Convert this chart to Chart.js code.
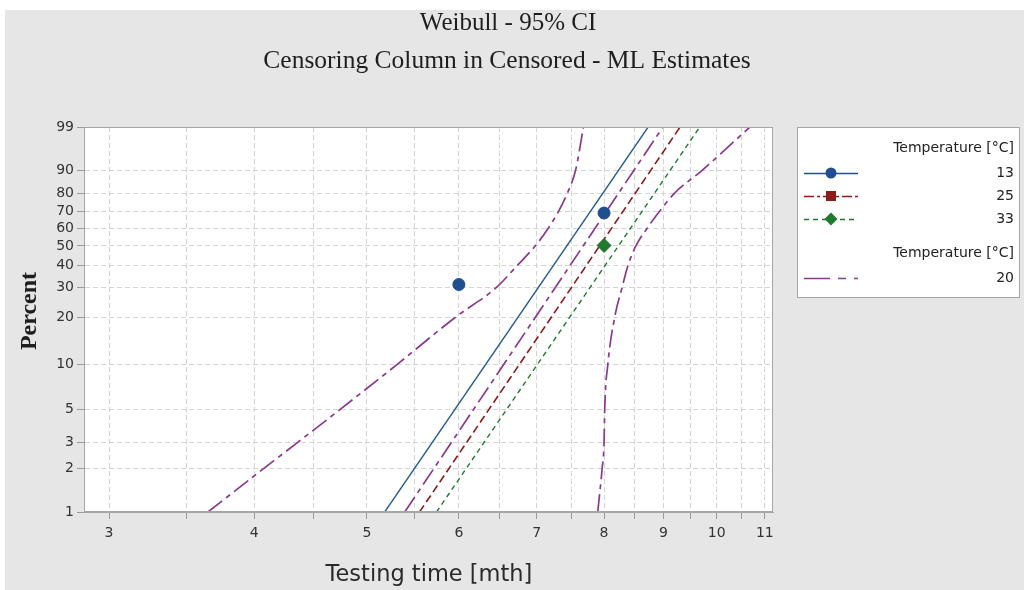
<!DOCTYPE html>
<html>
<head>
<meta charset="utf-8">
<script src="https://cdn.jsdelivr.net/npm/chart.js@4.4.1/dist/chart.umd.min.js"></script>
<style>
  html, body { margin: 0; padding: 0; background: #fff; }
  #wrap { position: relative; width: 1024px; height: 590px; }
</style>
</head>
<body>
<div id="wrap"><canvas id="chart" width="1024" height="590"></canvas></div>
<script>
// percent ticks on the Weibull probability axis
const pctTicks = [1, 2, 3, 5, 10, 20, 30, 40, 50, 60, 70, 80, 90, 99];
// x grid every half month, labels on whole months only
const timeGrid = [3, 3.5, 4, 4.5, 5, 5.5, 6, 6.5, 7, 7.5, 8, 8.5, 9, 9.5, 10, 10.5, 11];

// fitted lines: time at 1% and at 99%
const fitPct = [1, 99];
const fit13 = [5.18, 8.73];
const fit20 = [5.39, 8.99];
const fit25 = [5.55, 9.30];
const fit33 = [5.74, 9.67];

// 95% CI for 20 °C
const ciPct = [1, 2, 3, 5, 10, 20, 30, 40, 50, 60, 70, 80, 90, 99];
const ciLow20 = [3.65, 4.08, 4.36, 4.74, 5.31, 5.96, 6.46, 6.74, 6.98, 7.16, 7.31, 7.44, 7.56, 7.68];
const ciHigh20 = [7.90, 7.97, 8.00, 8.01, 8.06, 8.17, 8.29, 8.39, 8.52, 8.71, 8.93, 9.20, 9.71, 10.68];

// plotted failures
const obs13Time = [6, 8];
const obs13Pct = [31.3, 69.0];
const obs33Time = [8];
const obs33Pct = [50.3];

const legendTitle = 'Temperature [°C]';

const BLUE = '#1f4f8f';
const RED = '#8b1c1c';
const GREEN = '#1f7a30';
const PURPLE = '#8a3a8c';
const SANS = '"DejaVu Sans"';
const DASH20 = [18, 5, 5, 5];

// Weibull probability transform
function weib(p) {
  return Math.log(-Math.log(1 - p / 100));
}

function pts(times, pcts) {
  return times.map((t, i) => ({ x: t, y: weib(pcts[i]) }));
}

function lineSet(times, pcts, color, dash, width, smooth) {
  return {
    data: pts(times, pcts),
    showLine: true,
    borderColor: color,
    borderWidth: width,
    borderDash: dash,
    pointRadius: 0,
    cubicInterpolationMode: smooth ? 'monotone' : 'default',
    fill: false
  };
}

const decor = {
  id: 'decor',
  beforeDraw(chart) {
    const { ctx, chartArea: a } = chart;
    ctx.save();
    ctx.fillStyle = '#fff';
    ctx.fillRect(0, 0, chart.width, chart.height);
    ctx.fillStyle = '#e6e6e6';
    ctx.fillRect(5, 10, chart.width - 5, chart.height - 10);
    ctx.fillStyle = '#fff';
    ctx.fillRect(a.left, a.top, a.right - a.left, a.bottom - a.top);
    ctx.restore();
  },
  afterDraw(chart) {
    const { ctx, chartArea: a } = chart;
    ctx.save();
    // frame
    ctx.strokeStyle = '#a6a6a6';
    ctx.lineWidth = 1;
    ctx.strokeRect(a.left + 0.5, a.top + 0.5, a.right - a.left - 1, a.bottom - a.top - 1);

    // titles
    ctx.fillStyle = '#1e1e1e';
    ctx.textAlign = 'center';
    ctx.textBaseline = 'middle';
    ctx.font = '25px "Liberation Serif"';
    ctx.fillText('Weibull - 95% CI', 508, 23);
    ctx.font = '25.5px "Liberation Serif"';
    ctx.fillText('Censoring Column in Censored - ML Estimates', 507, 61);

    // axis titles
    ctx.font = '22.5px ' + SANS;
    ctx.fillStyle = '#2a2a2a';
    ctx.fillText('Testing time [mth]', 429, 575);
    ctx.save();
    ctx.translate(30, 311);
    ctx.rotate(-Math.PI / 2);
    ctx.font = 'bold 24px "Liberation Serif"';
    ctx.fillStyle = '#1e1e1e';
    ctx.fillText('Percent', 0, 0);
    ctx.restore();

    // legend box
    const lx = 797, ly = 127, lw = 223, lh = 171;
    ctx.fillStyle = '#fff';
    ctx.fillRect(lx, ly, lw, lh);
    ctx.strokeStyle = '#a6a6a6';
    ctx.strokeRect(lx + 0.5, ly + 0.5, lw - 1, lh - 1);

    ctx.font = '14px ' + SANS;
    ctx.fillStyle = '#222';
    ctx.textAlign = 'right';
    const tx = 1014;
    const rows = [
      { label: '13', y: 173, color: BLUE, dash: [], marker: 'circle' },
      { label: '25', y: 196, color: RED, dash: [10, 3, 3, 3], marker: 'square' },
      { label: '33', y: 219, color: GREEN, dash: [5, 4], marker: 'diamond' },
      { label: '20', y: 278, color: PURPLE, dash: [26, 8, 8, 8], marker: null }
    ];
    ctx.fillText(legendTitle, tx, 148);
    ctx.fillText(legendTitle, tx, 253);
    rows.forEach(r => {
      ctx.fillStyle = '#222';
      ctx.fillText(r.label, tx, r.y);
      ctx.strokeStyle = r.color;
      ctx.lineWidth = 1.5;
      ctx.setLineDash(r.dash);
      ctx.beginPath();
      ctx.moveTo(804, r.y + 0.5);
      ctx.lineTo(858, r.y + 0.5);
      ctx.stroke();
      ctx.setLineDash([]);
      ctx.fillStyle = r.color;
      const mx = 831, my = r.y;
      if (r.marker === 'circle') {
        ctx.beginPath(); ctx.arc(mx, my, 5.5, 0, Math.PI * 2); ctx.fill();
      } else if (r.marker === 'square') {
        ctx.fillRect(mx - 5, my - 5, 10, 10);
      } else if (r.marker === 'diamond') {
        ctx.beginPath();
        ctx.moveTo(mx, my - 6.5); ctx.lineTo(mx + 6.5, my);
        ctx.lineTo(mx, my + 6.5); ctx.lineTo(mx - 6.5, my);
        ctx.closePath(); ctx.fill();
      }
    });
    ctx.restore();
  }
};

const gridCommon = {
  color: '#d4d4d4',
  tickColor: '#9a9a9a',
  tickBorderDash: [],
  tickLength: 7,
  drawTicks: true
};
const borderCommon = { color: '#a6a6a6', dash: [5, 3] };

new Chart(document.getElementById('chart'), {
  type: 'scatter',
  data: {
    datasets: [
      {
        data: pts(obs13Time, obs13Pct),
        pointStyle: 'circle',
        pointRadius: 6,
        backgroundColor: BLUE,
        borderColor: BLUE,
        showLine: false
      },
      {
        data: pts(obs33Time, obs33Pct),
        pointStyle: 'rectRot',
        pointRadius: 7,
        backgroundColor: GREEN,
        borderColor: GREEN,
        showLine: false
      },
      lineSet(fit13, fitPct, '#2b5f8f', [], 1.4),
      lineSet(fit20, fitPct, PURPLE, DASH20, 1.7),
      lineSet(fit25, fitPct, RED, [8, 4], 1.6),
      lineSet(fit33, fitPct, GREEN, [5, 4], 1.4),
      lineSet(ciLow20, ciPct, PURPLE, DASH20, 1.7, true),
      lineSet(ciHigh20, ciPct, PURPLE, DASH20, 1.7, true)
    ]
  },
  options: {
    responsive: false,
    animation: false,
    layout: { padding: { left: 0, top: 127, right: 251, bottom: 0 } },
    plugins: {
      legend: { display: false },
      title: { display: false },
      tooltip: { enabled: false }
    },
    scales: {
      x: {
        type: 'logarithmic',
        bounds: 'data',
        min: 2.855,
        max: 11.18,
        afterFit(scale) { scale.height = 78; },
        afterBuildTicks(scale) {
          scale.ticks = timeGrid.map(v => ({ value: v }));
        },
        ticks: {
          autoSkip: false,
          maxRotation: 0,
          padding: 6,
          color: '#333',
          font: { family: 'DejaVu Sans', size: 14 },
          callback: v => Number.isInteger(v) ? String(v) : ''
        },
        grid: gridCommon,
        border: borderCommon
      },
      y: {
        type: 'linear',
        bounds: 'data',
        min: weib(1),
        max: weib(99),
        afterFit(scale) { scale.width = 84; },
        afterBuildTicks(scale) {
          scale.ticks = pctTicks.map(p => ({ value: weib(p) }));
        },
        ticks: {
          autoSkip: false,
          padding: 3,
          color: '#333',
          font: { family: 'DejaVu Sans', size: 14 },
          callback: (v, i) => String(pctTicks[i])
        },
        grid: gridCommon,
        border: borderCommon
      }
    }
  },
  plugins: [decor]
});
</script>
</body>
</html>
